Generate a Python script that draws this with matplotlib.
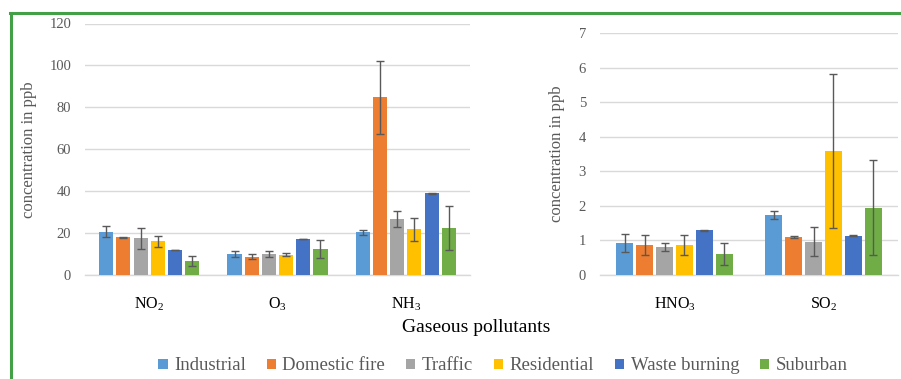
import matplotlib
matplotlib.use("Agg")
import matplotlib.pyplot as plt
from matplotlib.lines import Line2D
import numpy as np

plt.rcParams['font.family'] = ['Liberation Serif', 'DejaVu Serif']
plt.rcParams['mathtext.default'] = 'regular'

sources = ["Industrial", "Domestic fire", "Traffic", "Residential", "Waste burning", "Suburban"]
colors = ["#5B9BD5", "#ED7D31", "#A5A5A5", "#FFC000", "#4472C4", "#70AD47"]

left_cats = [r"NO$_2$", r"O$_3$", r"NH$_3$"]
left_vals = {
    "Industrial":    [20.7, 10.0, 20.3],
    "Domestic fire": [18.0, 8.7, 84.7],
    "Traffic":       [17.6, 10.0, 26.7],
    "Residential":   [16.0, 9.7, 21.8],
    "Waste burning": [11.9, 17.3, 39.0],
    "Suburban":      [6.7, 12.2, 22.3],
}
left_err = {
    "Industrial":    [2.7, 1.6, 1.0],
    "Domestic fire": [0.3, 1.3, 17.2],
    "Traffic":       [5.0, 1.6, 3.7],
    "Residential":   [2.6, 0.8, 5.4],
    "Waste burning": [0.1, 0.1, 0.2],
    "Suburban":      [2.5, 4.3, 10.6],
}

right_cats = [r"HNO$_3$", r"SO$_2$"]
right_vals = {
    "Industrial":    [0.92, 1.73],
    "Domestic fire": [0.86, 1.10],
    "Traffic":       [0.82, 0.97],
    "Residential":   [0.87, 3.59],
    "Waste burning": [1.29, 1.14],
    "Suburban":      [0.62, 1.95],
}
right_err = {
    "Industrial":    [0.26, 0.11],
    "Domestic fire": [0.29, 0.02],
    "Traffic":       [0.12, 0.43],
    "Residential":   [0.29, 2.24],
    "Waste burning": [0.01, 0.01],
    "Suburban":      [0.32, 1.37],
}

fig = plt.figure(figsize=(9.01, 3.79), dpi=100)
W, H = 901, 379

def px_axes(x0, x1, ytop, ybot):
    return fig.add_axes([x0 / W, 1 - ybot / H, (x1 - x0) / W, (ybot - ytop) / H])

ax1 = px_axes(85, 470, 23.5, 275)
ax2 = px_axes(600, 898, 33.3, 275)

pitch = 0.134
bw = 0.11
grid_c = "#D9D9D9"
txt_c = "#595959"

def draw(ax, cats, vals, errs, ymax, step):
    x = np.arange(len(cats))
    bars = []
    for i, s in enumerate(sources):
        pos = x + (i - 2.5) * pitch
        b = ax.bar(pos, vals[s], bw, color=colors[i], label=s, zorder=3)
        ax.errorbar(pos, vals[s], yerr=errs[s], fmt='none', ecolor="#595959",
                    elinewidth=1, capsize=3, capthick=1, zorder=4)
        bars.append(b)
    ax.set_xlim(-0.5, len(cats) - 0.5)
    ax.set_ylim(0, ymax)
    ax.set_yticks(np.arange(0, ymax + 0.001, step))
    ax.yaxis.grid(True, color=grid_c, linewidth=1, zorder=0)
    ax.set_axisbelow(True)
    for sp in ["top", "right", "left"]:
        ax.spines[sp].set_visible(False)
    ax.spines["bottom"].set_color(grid_c)
    ax.spines["bottom"].set_linewidth(1)
    ax.set_xticks(x)
    ax.set_xticklabels(cats, fontsize=11.5, color="black")
    ax.tick_params(axis='x', length=0, pad=15)
    ax.tick_params(axis='y', length=0, pad=10, labelsize=10.5, labelcolor=txt_c)
    ax.set_ylabel("concentration in ppb", fontsize=12, color=txt_c)
    return bars

bars = draw(ax1, left_cats, left_vals, left_err, 120, 20)
draw(ax2, right_cats, right_vals, right_err, 7, 1)
ax1.yaxis.set_label_coords(-0.125, 0.5)
ax2.yaxis.set_label_coords(-0.118, 0.5)

fig.text(476 / W, 1 - 327 / H, "Gaseous pollutants", fontsize=14, ha="center", va="center", color="black")

leg = fig.legend(bars, sources, loc="center", bbox_to_anchor=(503 / W, 1 - 366 / H), ncol=6,
                 frameon=False, prop={'family': ['Liberation Serif'], 'size': 13.5},
                 handlelength=0.5, handleheight=0.5,
                 handletextpad=0.35, columnspacing=1.1, borderpad=0)
for t in leg.get_texts():
    t.set_color(txt_c)

green = "#43A047"
fig.add_artist(Line2D([10.5 / W, 10.5 / W], [0, 1 - 13 / H], color=green, linewidth=2.2,
                      transform=fig.transFigure))
fig.add_artist(Line2D([10 / W, 1], [1 - 13 / H, 1 - 13 / H], color=green, linewidth=2.2,
                      transform=fig.transFigure))

fig.savefig("out.png", dpi=100)
